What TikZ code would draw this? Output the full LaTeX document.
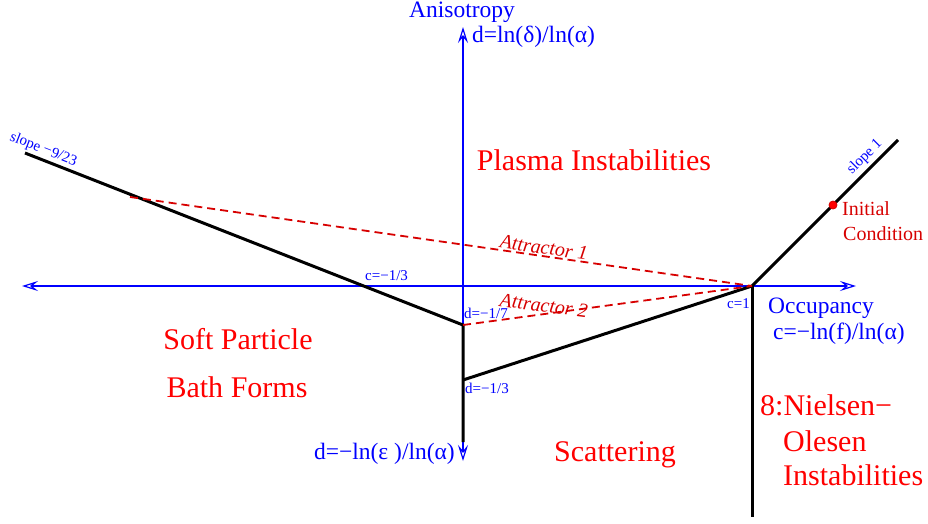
\documentclass[tikz,border=0pt]{standalone}
\usepackage{fontspec}
\setmainfont{Liberation Serif}
\usetikzlibrary{arrows.meta}
\definecolor{axblue}{RGB}{0,0,255}
\definecolor{attred}{RGB}{215,0,0}
\definecolor{txtred}{RGB}{255,0,0}
\begin{document}
\begin{tikzpicture}[x=1pt,y=-1pt,
  axis/.style={draw=axblue, line width=1.1pt},
  axtip/.style={{Stealth[open,length=16pt,width=10pt,inset=6pt,line width=1.2pt]}-{Stealth[open,length=16pt,width=10pt,inset=6pt,line width=1.2pt]}},
  heavy/.style={draw=black, line width=3pt, line join=miter},
  attr/.style={draw=attred, line width=1.8pt, dash pattern=on 8pt off 5pt},
  lab/.style={text=axblue, inner sep=0pt, font=\fontsize{23.5}{28}\selectfont},
  small/.style={text=axblue, inner sep=0pt, font=\fontsize{15}{18}\selectfont},
  big/.style={text=txtred, inner sep=0pt, font=\fontsize{30}{36}\selectfont},
  attrlab/.style={text=attred, inner sep=0pt, font=\fontsize{20}{24}\selectfont\itshape},
  iclab/.style={text=attred, inner sep=0pt, font=\fontsize{20}{24}\selectfont}
]
\useasboundingbox (0,0) rectangle (928,523);

% key points
\coordinate (L) at (22,286);
\coordinate (R) at (856,286);
\coordinate (T) at (463,27);
\coordinate (B) at (463,461);
\coordinate (S0) at (25,153);
\coordinate (K1) at (463,325);
\coordinate (K2) at (463,380);
\coordinate (K3) at (463,442);
\coordinate (O) at (752,286);
\coordinate (S1) at (898,140);
\coordinate (Bot) at (752,517);
\coordinate (A1) at (130,197);

% axes
\draw[axis, axtip] (L) -- (R);
\draw[axis, axtip] (B) -- (T);

% heavy boundaries
\draw[heavy] (S0) -- (K1) -- (K3);
\draw[heavy] (K2) -- (O) -- (S1);
\draw[heavy] (O) -- (Bot);

% attractors
\draw[attr] (A1) -- (O);
\draw[attr] (K1) -- (O);

% initial condition dot
\node[circle, fill=red, draw=attred, line width=0.8pt, minimum size=8pt, inner sep=0pt] (ic) at (833,205) {};

% axis labels
\node[lab, anchor=base] (aniso) at (462,17) {Anisotropy};
\node[lab, anchor=base west] (dlab) at (472,42) {d=ln(δ)/ln(α)};
\node[lab, anchor=base east] (dlab2) at (455,459) {d=−ln(ε )/ln(α)};
\node[lab, anchor=base west] (occ) at (768,313) {Occupancy};
\node[lab, anchor=base west] (clab) at (773,339) {c=−ln(f)/ln(α)};

% small labels
\node[small, anchor=base west] (cm13) at (365,280) {c=−1/3};
\node[small, anchor=base west] (dm17) at (464,318) {d=−1/7};
\node[small, anchor=base west] (dm13) at (465,393) {d=−1/3};
\node[small, anchor=base west] (c1) at (727,308) {c=1};
\node[small, anchor=base west, rotate=-21.4] (sl1) at (9,140) {slope −9/23};
\node[small, anchor=base west, rotate=45] (sl2) at (852,175) {slope 1};

% attractor labels
\node[attrlab, anchor=base, rotate=-8.1] (at1) at (543,254) {Attractor 1};
\node[attrlab, anchor=base, rotate=-7.7] (at2) at (543,312) {Attractor 2};

% initial condition
\node[iclab, anchor=base west] (ic1) at (842,215) {Initial};
\node[iclab, anchor=base west] (ic2) at (843,240) {Condition};

% regions
\node[big, anchor=base] (plasma) at (594,170) {Plasma Instabilities};
\node[big, anchor=base] (soft) at (238,349) {Soft Particle};
\node[big, anchor=base] (bath) at (237,397) {Bath Forms};
\node[big, anchor=base] (scat) at (615,461) {Scattering};
\node[big, anchor=base west] (no1) at (760,415) {8:Nielsen−};
\node[big, anchor=base west] (no2) at (783,451) {Olesen};
\node[big, anchor=base west] (no3) at (783,485) {Instabilities};
\end{tikzpicture}
\end{document}
